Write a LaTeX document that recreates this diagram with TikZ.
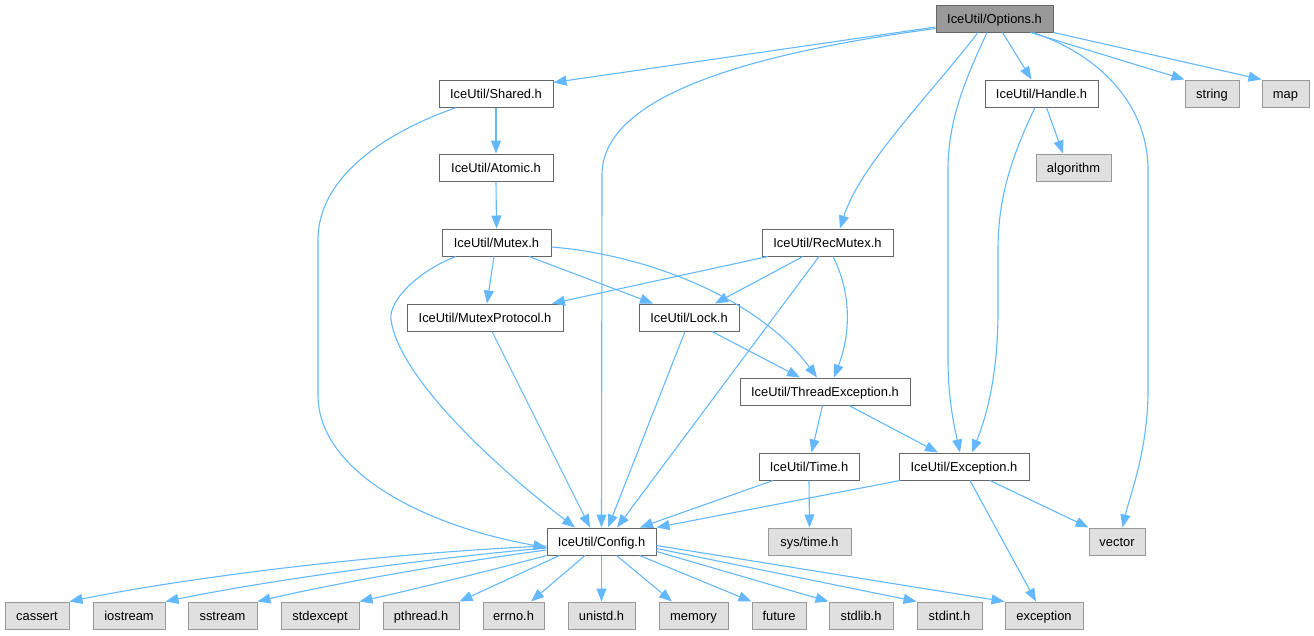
\documentclass[tikz,border=0pt]{standalone}
\usepackage{fontspec}
\setmainfont{Liberation Sans}
\usetikzlibrary{arrows.meta}
\definecolor{edgeblue}{HTML}{63B8FF}
\definecolor{nodeborder}{HTML}{666666}
\definecolor{extfill}{HTML}{E0E0E0}
\definecolor{extborder}{HTML}{999999}
\definecolor{rootfill}{HTML}{999999}
\begin{document}
\begin{tikzpicture}[x=1pt,y=-1pt,
 box/.style={draw=nodeborder, fill=white, line width=1pt, minimum height=27pt, inner sep=0pt, text height=9.4pt, text depth=0pt, font=\fontsize{12.9}{14}\selectfont, text=black},
 ext/.style={box, fill=extfill, draw=extborder},
 root/.style={box, fill=rootfill, draw=nodeborder},
 dep/.style={draw=edgeblue, line width=1.1pt, -{Triangle[length=13pt,width=10pt]}},
]
\useasboundingbox (0,0) rectangle (1314,635);
% nodes
\node[root, minimum width=117pt] (options) at (994.5,18.5) {IceUtil/Options.h};
\node[box, minimum width=114pt] (shared) at (496,93.5) {IceUtil/Shared.h};
\node[box, minimum width=114pt] (atomic) at (496,167.5) {IceUtil/Atomic.h};
\node[box, minimum width=109pt] (mutex) at (496.5,242.5) {IceUtil/Mutex.h};
\node[box, minimum width=113pt] (handle) at (1041.5,93.5) {IceUtil/Handle.h};
\node[ext, minimum width=54pt] (string) at (1212,93.5) {string};
\node[ext, minimum width=47pt] (map) at (1285.5,93.5) {map};
\node[ext, minimum width=75pt] (algorithm) at (1073.5,167.5) {algorithm};
\node[box, minimum width=131pt] (recmutex) at (827.5,242.5) {IceUtil/RecMutex.h};
\node[box, minimum width=156pt] (mutexprotocol) at (485,317.5) {IceUtil/MutexProtocol.h};
\node[box, minimum width=100pt] (lock) at (689,317.5) {IceUtil/Lock.h};
\node[box, minimum width=170pt] (threadexc) at (825,391.5) {IceUtil/ThreadException.h};
\node[box, minimum width=100pt] (time) at (809,466.5) {IceUtil/Time.h};
\node[box, minimum width=130pt] (exceptionh) at (964,466.5) {IceUtil/Exception.h};
\node[box, minimum width=109pt] (config) at (601.5,541.5) {IceUtil/Config.h};
\node[ext, minimum width=83pt] (systime) at (809.5,541.5) {sys/time.h};
\node[ext, minimum width=56pt] (vector) at (1117,541.5) {vector};
\node[ext, minimum width=64pt] (cassert) at (37,615.5) {cassert};
\node[ext, minimum width=72pt] (iostream) at (129,615.5) {iostream};
\node[ext, minimum width=69pt] (sstream) at (222.5,615.5) {sstream};
\node[ext, minimum width=78pt] (stdexcept) at (320,615.5) {stdexcept};
\node[ext, minimum width=76pt] (pthread) at (421,615.5) {pthread.h};
\node[ext, minimum width=61pt] (errno) at (513.5,615.5) {errno.h};
\node[ext, minimum width=67pt] (unistd) at (601.5,615.5) {unistd.h};
\node[ext, minimum width=69pt] (memory) at (693.5,615.5) {memory};
\node[ext, minimum width=54pt] (future) at (779,615.5) {future};
\node[ext, minimum width=64pt] (stdlib) at (861,615.5) {stdlib.h};
\node[ext, minimum width=65pt] (stdint) at (949.5,615.5) {stdint.h};
\node[ext, minimum width=78pt] (exceptionstd) at (1044,615.5) {exception};
% edges from Options.h
\draw[dep] ([yshift=-8.5pt]options.west) -- ([yshift=11pt]shared.east);
\draw[dep] ([yshift=-10pt]options.west) .. controls (700,60) and (602,110) .. (602,175) -- (config.north);
\draw[dep] ([xshift=-16.5pt]options.south) .. controls (930,95) and (860,165) .. ([xshift=12.5pt]recmutex.north);
\draw[dep] ([xshift=8pt]options.south) -- ([xshift=-10pt]handle.north);
\draw[dep] ([xshift=-7.5pt]options.south) .. controls (965,80) and (948,120) .. (948,170) -- (948,360) .. controls (948,400) and (955,430) .. ([xshift=-4pt]exceptionh.north);
\draw[dep] ([xshift=38.5pt]options.south) .. controls (1100,55) and (1148,105) .. (1148,170) -- (1148,390) .. controls (1148,450) and (1130,495) .. ([xshift=5.5pt]vector.north);
\draw[dep] ([xshift=36pt]options.south) -- (string.north west);
\draw[dep] (options.south east) -- (map.north west);
% Shared, Atomic
\draw[dep] (shared.south) -- (atomic.north);
\draw[dep] ([xshift=-39.5pt]shared.south) .. controls (400,127) and (318,170) .. (318,240) -- (318,395) .. controls (318,470) and (420,525) .. ([yshift=-6pt]config.west);
\draw[dep] (atomic.south) -- (mutex.north);
% Mutex
\draw[dep] ([xshift=-2.5pt]mutex.south) -- ([xshift=2pt]mutexprotocol.north);
\draw[dep] ([xshift=32.5pt]mutex.south) -- ([xshift=-36pt]lock.north);
\draw[dep] ([yshift=-4.5pt]mutex.east) .. controls (650,255) and (760,300) .. ([xshift=-8pt]threadexc.north);
\draw[dep] ([xshift=-40.5pt]mutex.south) .. controls (420,270) and (388,300) .. (391,320) .. controls (400,380) and (500,470) .. ([xshift=-26.5pt]config.north);
\draw[dep] ([xshift=7pt]mutexprotocol.south) -- ([xshift=-11.5pt]config.north);
% RecMutex
\draw[dep] ([xshift=-59.5pt]recmutex.south) -- ([xshift=67pt]mutexprotocol.north);
\draw[dep] ([xshift=-24.5pt]recmutex.south) -- ([xshift=26pt]lock.north);
\draw[dep] ([xshift=5.5pt]recmutex.south) .. controls (850,290) and (852,330) .. ([xshift=9pt]threadexc.north);
\draw[dep] ([xshift=-8.5pt]recmutex.south) -- ([xshift=15.5pt]config.north);
% Handle
\draw[dep] ([xshift=5pt]handle.south) -- ([xshift=-10.5pt]algorithm.north);
\draw[dep] ([xshift=-6.5pt]handle.south) .. controls (1010,160) and (998,200) .. (998,250) -- (998,310) .. controls (998,380) and (985,420) .. ([xshift=8pt]exceptionh.north);
% Lock
\draw[dep] ([xshift=23pt]lock.south) -- ([xshift=-25pt]threadexc.north);
\draw[dep] ([xshift=-4pt]lock.south) -- ([xshift=6.5pt]config.north);
% ThreadException
\draw[dep] ([xshift=-2.5pt]threadexc.south) -- ([xshift=2.5pt]time.north);
\draw[dep] ([xshift=24pt]threadexc.south) -- ([xshift=-26pt]exceptionh.north);
% Time
\draw[dep] ([xshift=-36pt]time.south) -- ([xshift=38.5pt]config.north);
\draw[dep] (time.south) -- (systime.north);
% Exception
\draw[dep] ([xshift=-64pt]exceptionh.south) -- (config.north east);
\draw[dep] ([xshift=26pt]exceptionh.south) -- (vector.north west);
\draw[dep] ([xshift=6pt]exceptionh.south) -- ([xshift=-8pt]exceptionstd.north);
% Config
\draw[dep] ([yshift=-4.5pt]config.west) .. controls (400,552) and (200,575) .. (cassert.north east);
\draw[dep] ([yshift=-6.5pt]config.west) .. controls (450,556) and (280,578) .. (iostream.north east);
\draw[dep] ([yshift=-8.5pt]config.west) .. controls (470,560) and (340,582) .. (sstream.north east);
\draw[dep] (config.south west) .. controls (500,568) and (420,588) .. (stdexcept.north east);
\draw[dep] ([xshift=-42pt]config.south) -- (pthread.north east);
\draw[dep] ([xshift=-16.5pt]config.south) -- ([xshift=17.5pt]errno.north);
\draw[dep] (config.south) -- (unistd.north);
\draw[dep] ([xshift=15pt]config.south) -- ([xshift=-21.5pt]memory.north);
\draw[dep] ([xshift=38pt]config.south) -- (future.north west);
\draw[dep] ([yshift=-10pt]config.east) -- (stdlib.north west);
\draw[dep] ([yshift=-7pt]config.east) -- (stdint.north west);
\draw[dep] ([yshift=-4pt]config.east) -- (exceptionstd.north west);
\end{tikzpicture}
\end{document}
